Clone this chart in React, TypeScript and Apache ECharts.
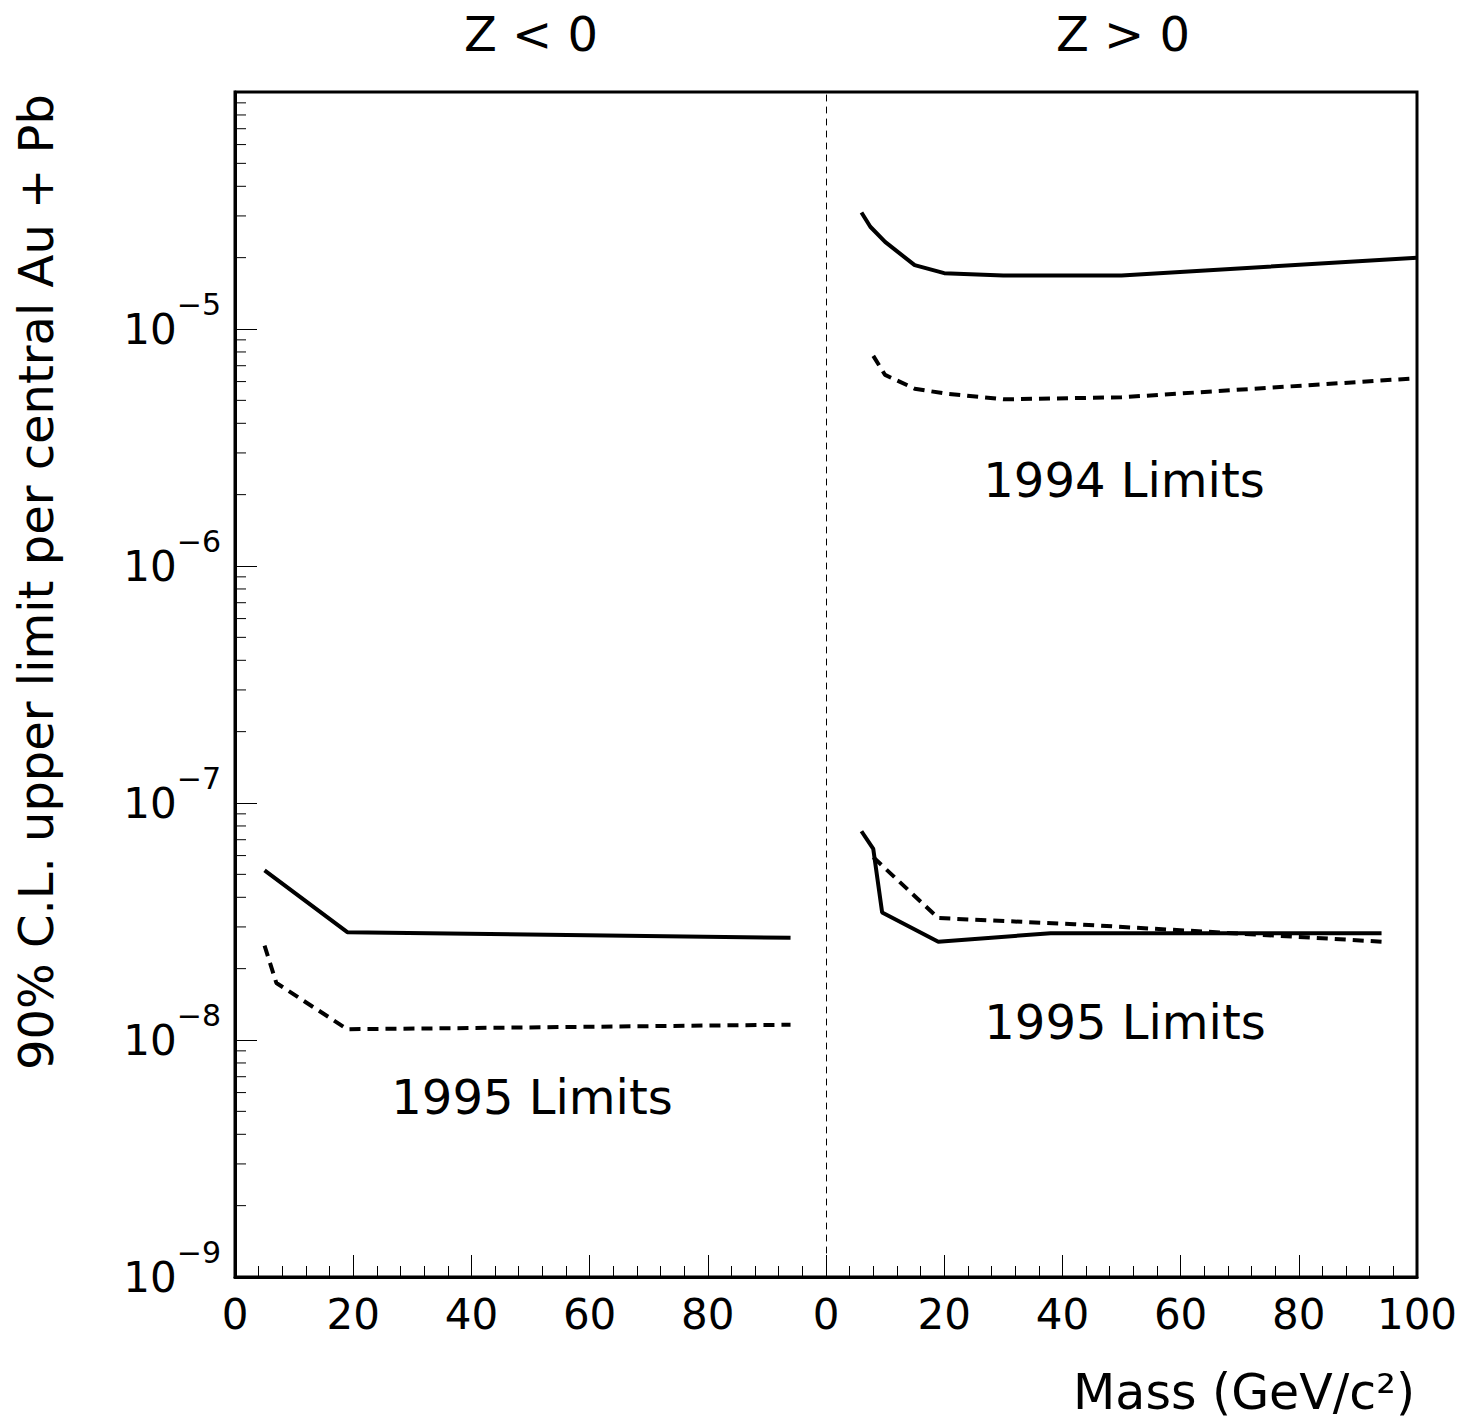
import React, { useEffect, useRef } from "react";
import * as echarts from "echarts";

// ---- data (mass in GeV/c^2, limit per central Au+Pb) ----
const leftSolidMass = [5, 19, 94];
const leftSolidLimit = [5.2e-8, 2.85e-8, 2.7e-8];
const leftDashMass = [5, 7, 19, 94];
const leftDashLimit = [2.5e-8, 1.74e-8, 1.11e-8, 1.16e-8];

const r94SolidMass = [6, 7.5, 10, 15, 20, 30, 50, 100];
const r94SolidLimit = [3.1e-5, 2.7e-5, 2.33e-5, 1.86e-5, 1.72e-5, 1.68e-5, 1.68e-5, 2.0e-5];
const r94DashMass = [8, 10, 15, 20, 30, 50, 100];
const r94DashLimit = [7.7e-6, 6.4e-6, 5.6e-6, 5.35e-6, 5.05e-6, 5.15e-6, 6.2e-6];

const r95SolidMass = [6, 8, 9.5, 19, 38, 94];
const r95SolidLimit = [7.6e-8, 6.4e-8, 3.45e-8, 2.6e-8, 2.82e-8, 2.82e-8];
const r95DashMass = [8, 19, 42, 94];
const r95DashLimit = [5.9e-8, 3.27e-8, 3.08e-8, 2.6e-8];

const xTicks = [0, 20, 40, 60, 80, 100];
const decades = [-9, -8, -7, -6, -5, -4];
const labelledDecades = [-9, -8, -7, -6, -5];
const minorMultipliers = [2, 3, 4, 5, 6, 7, 8, 9];

const FONT = "DejaVu Sans";

const zip = (xs: number[], ys: number[]) => xs.map((x, i) => [x, ys[i]]);

const minorData: number[][] = [];
for (const k of decades.slice(0, -1)) {
  for (const m of minorMultipliers) minorData.push([0, m * Math.pow(10, k)]);
}

export default function App() {
  const ref = useRef<HTMLDivElement>(null);
  useEffect(() => {
    if (!ref.current) return;
    const chart = echarts.init(ref.current, undefined, { renderer: "svg" });
    const G = { top: 92, height: 1185, width: 591 };
    const yBase = {
      type: "log" as const,
      logBase: 10,
      min: 1e-9,
      max: 1e-4,
      splitNumber: 5,
      splitLine: { show: false },
    };
    const xBase = (idx: number) => ({
      type: "value" as const,
      gridIndex: idx,
      min: xTicks[0],
      max: xTicks[xTicks.length - 1],
      interval: 20,
      axisLine: { show: true, lineStyle: { color: "#000", width: 3 } },
      axisTick: { show: true, inside: true, length: 22, lineStyle: { color: "#000", width: 1 } },
      minorTick: { show: true, splitNumber: 5, length: 11, lineStyle: { color: "#000", width: 1 } },
      splitLine: { show: false },
      axisLabel: {
        show: true,
        margin: 16,
        fontFamily: FONT,
        fontSize: 42,
        color: "#000",
        showMaxLabel: true,
        formatter: (v: number) => (idx === 0 && v === 100 ? "" : String(v)),
      },
    });
    const solid = { color: "#000", width: 4, type: "solid" as const };
    const dashed = { color: "#000", width: 4, type: [11, 7] as any };
    const line = (name: string, xi: number, data: number[][], ls: any) => ({
      name,
      type: "line" as const,
      xAxisIndex: xi,
      yAxisIndex: xi,
      data,
      symbol: "none",
      lineStyle: ls,
      silent: true,
    });
    chart.setOption({
      animation: false,
      backgroundColor: "#fff",
      grid: [
        { left: 235, top: G.top, width: G.width, height: G.height },
        { left: 235 + G.width, top: G.top, width: G.width, height: G.height },
      ],
      xAxis: [xBase(0), xBase(1)],
      yAxis: [
        {
          ...yBase,
          gridIndex: 0,
          axisLine: { show: true, lineStyle: { color: "#000", width: 3 } },
          axisTick: { show: true, inside: true, length: 22, lineStyle: { color: "#000", width: 1 } },
          axisLabel: {
            show: true,
            margin: 14,
            formatter: (v: number) => {
              const e = Math.round(Math.log10(v));
              if (labelledDecades.indexOf(e) < 0) return "";
              return `{b|10}{s|${e < 0 ? "\u2212" : ""}${Math.abs(e)}}`;
            },
            rich: {
              b: { fontFamily: FONT, fontSize: 42, color: "#000" },
              s: { fontFamily: FONT, fontSize: 30, color: "#000", padding: [0, 0, 50, 0] },
            },
          },
        },
        {
          ...yBase,
          gridIndex: 1,
          axisLine: { show: true, lineStyle: { color: "#000", width: 1, type: [6, 6] } },
          axisTick: { show: false },
          axisLabel: { show: false },
        },
      ],
      series: [
        {
          type: "custom",
          xAxisIndex: 0,
          yAxisIndex: 0,
          data: minorData,
          silent: true,
          renderItem: (params: any, api: any) => {
            const p = api.coord([api.value(0), api.value(1)]);
            return {
              type: "line",
              shape: { x1: p[0], y1: p[1], x2: p[0] + 11, y2: p[1] },
              style: { stroke: "#000", lineWidth: 1 },
            };
          },
        },
        line("Z<0 1995 solid", 0, zip(leftSolidMass, leftSolidLimit), solid),
        line("Z<0 1995 dashed", 0, zip(leftDashMass, leftDashLimit), dashed),
        line("Z>0 1994 solid", 1, zip(r94SolidMass, r94SolidLimit), solid),
        line("Z>0 1994 dashed", 1, zip(r94DashMass, r94DashLimit), dashed),
        line("Z>0 1995 solid", 1, zip(r95SolidMass, r95SolidLimit), solid),
        line("Z>0 1995 dashed", 1, zip(r95DashMass, r95DashLimit), dashed),
      ],
      graphic: [
        {
          type: "rect",
          shape: { x: 235, y: 92, width: 2 * G.width, height: G.height },
          style: { fill: "none", stroke: "#000", lineWidth: 3 },
          z: 100,
          silent: true,
        },
        { type: "text", x: 531, y: 34, style: { text: "Z < 0", font: `48px "${FONT}"`, fill: "#000", align: "center", verticalAlign: "middle" } },
        { type: "text", x: 1123, y: 34, style: { text: "Z > 0", font: `48px "${FONT}"`, fill: "#000", align: "center", verticalAlign: "middle" } },
        { type: "text", x: 1124, y: 480, style: { text: "1994 Limits", font: `48px "${FONT}"`, fill: "#000", align: "center", verticalAlign: "middle" } },
        { type: "text", x: 1125, y: 1022, style: { text: "1995 Limits", font: `48px "${FONT}"`, fill: "#000", align: "center", verticalAlign: "middle" } },
        { type: "text", x: 532, y: 1097, style: { text: "1995 Limits", font: `48px "${FONT}"`, fill: "#000", align: "center", verticalAlign: "middle" } },
        { type: "text", x: 1415, y: 1392, style: { text: "Mass (GeV/c\u00B2)", font: `49px "${FONT}"`, fill: "#000", align: "right", verticalAlign: "middle" } },
        {
          type: "text",
          x: 36,
          y: 582,
          rotation: Math.PI / 2,
          style: { text: "90% C.L. upper limit per central Au + Pb", font: `48px "${FONT}"`, fill: "#000", align: "center", verticalAlign: "middle" },
        },
      ],
    });
    return () => chart.dispose();
  }, []);
  return <div ref={ref} style={{ position: "absolute", left: 0, top: 0, width: 1465, height: 1422 }} />;
}
